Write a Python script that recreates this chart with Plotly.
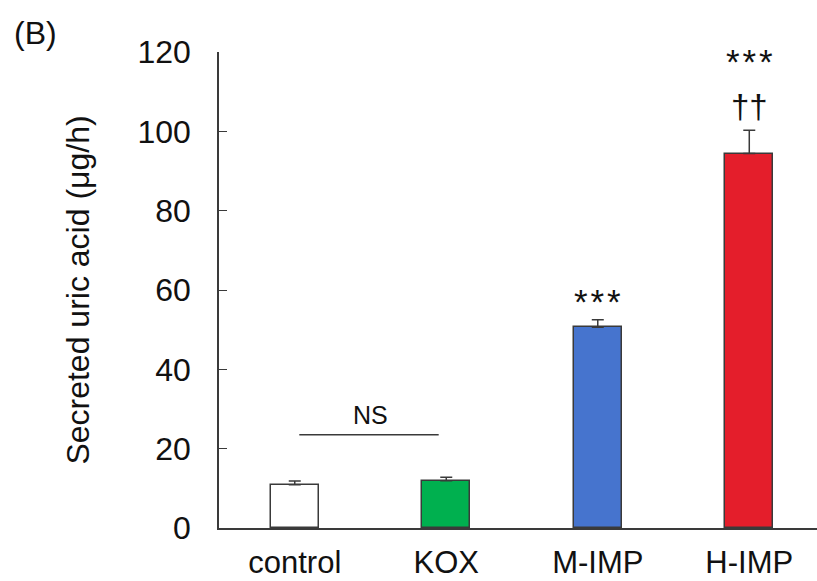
import plotly.graph_objects as go

# Group data
groups = ["control", "KOX", "M-IMP", "H-IMP"]
means = [10.9, 11.9, 50.6, 94.4]
sems = [0.95, 0.9, 1.9, 5.9]
fill_colors = ["#FFFFFF", "#00B04F", "#4674CE", "#E41E2B"]

# Significance marks above bars
sig_groups = ["M-IMP", "H-IMP", "H-IMP"]
sig_texts = ["*\u200a*\u200a*", "*\u200a*\u200a*", "††"]
sig_levels = [57.0, 117.6, 106.2]

FONT = "Arial, Liberation Sans, sans-serif"
EDGE = "#3a3a3a"

fig = go.Figure()
fig.add_trace(go.Bar(
    x=groups,
    y=means,
    width=0.315,
    marker=dict(color=fill_colors, line=dict(color=EDGE, width=1.5)),
    error_y=dict(type="data", symmetric=False, array=sems,
                 arrayminus=[0] * len(sems), color=EDGE, thickness=1.5, width=6),
    showlegend=False,
))

# NS bracket between control and KOX
fig.add_shape(type="line", xref="x", yref="y", x0=0.03, x1=0.95, y0=23.5, y1=23.5,
              line=dict(color=EDGE, width=1.5))
fig.add_annotation(x=0.5, y=28.4, xref="x", yref="y", text="NS", showarrow=False,
                   font=dict(family=FONT, size=25, color="#111"))

for g, t, lv in zip(sig_groups, sig_texts, sig_levels):
    fig.add_annotation(x=g, y=lv, xref="x", yref="y", text=t, showarrow=False,
                       font=dict(family=FONT, size=35 if t.startswith("*") else 33,
                                 color="#111"))

# Panel label (paper coordinates are relative to the plot area)
fig.add_annotation(x=(12 - 219) / 598, y=(528 - 33) / 476, xref="paper", yref="paper",
                   xanchor="left", yanchor="middle",
                   text="(B)", showarrow=False,
                   font=dict(family=FONT, size=32, color="#111"))

fig.update_layout(
    width=817, height=581,
    margin=dict(l=219, r=0, t=52, b=53, pad=0),
    plot_bgcolor="white", paper_bgcolor="white",
    font=dict(family=FONT, color="#111"),
    bargap=0,
)
fig.update_xaxes(
    type="category", range=[-0.5, 3.447],
    showline=True, linecolor=EDGE, linewidth=1.5,
    ticks="", showgrid=False, zeroline=False,
    tickfont=dict(family=FONT, size=31, color="#111"),
    ticklabelstandoff=6,
)
fig.update_yaxes(
    range=[0, 120], tickvals=[0, 20, 40, 60, 80, 100, 120],
    showline=True, linecolor=EDGE, linewidth=1.5,
    ticks="inside", ticklen=8, tickwidth=1.3, tickcolor=EDGE,
    showgrid=False, zeroline=False,
    tickfont=dict(family=FONT, size=32, color="#111"),
    ticklabelstandoff=20,
    title=dict(text="Secreted uric acid (μg/h)", standoff=38,
               font=dict(family=FONT, size=32, color="#111")),
)

fig.write_html("out.html")
